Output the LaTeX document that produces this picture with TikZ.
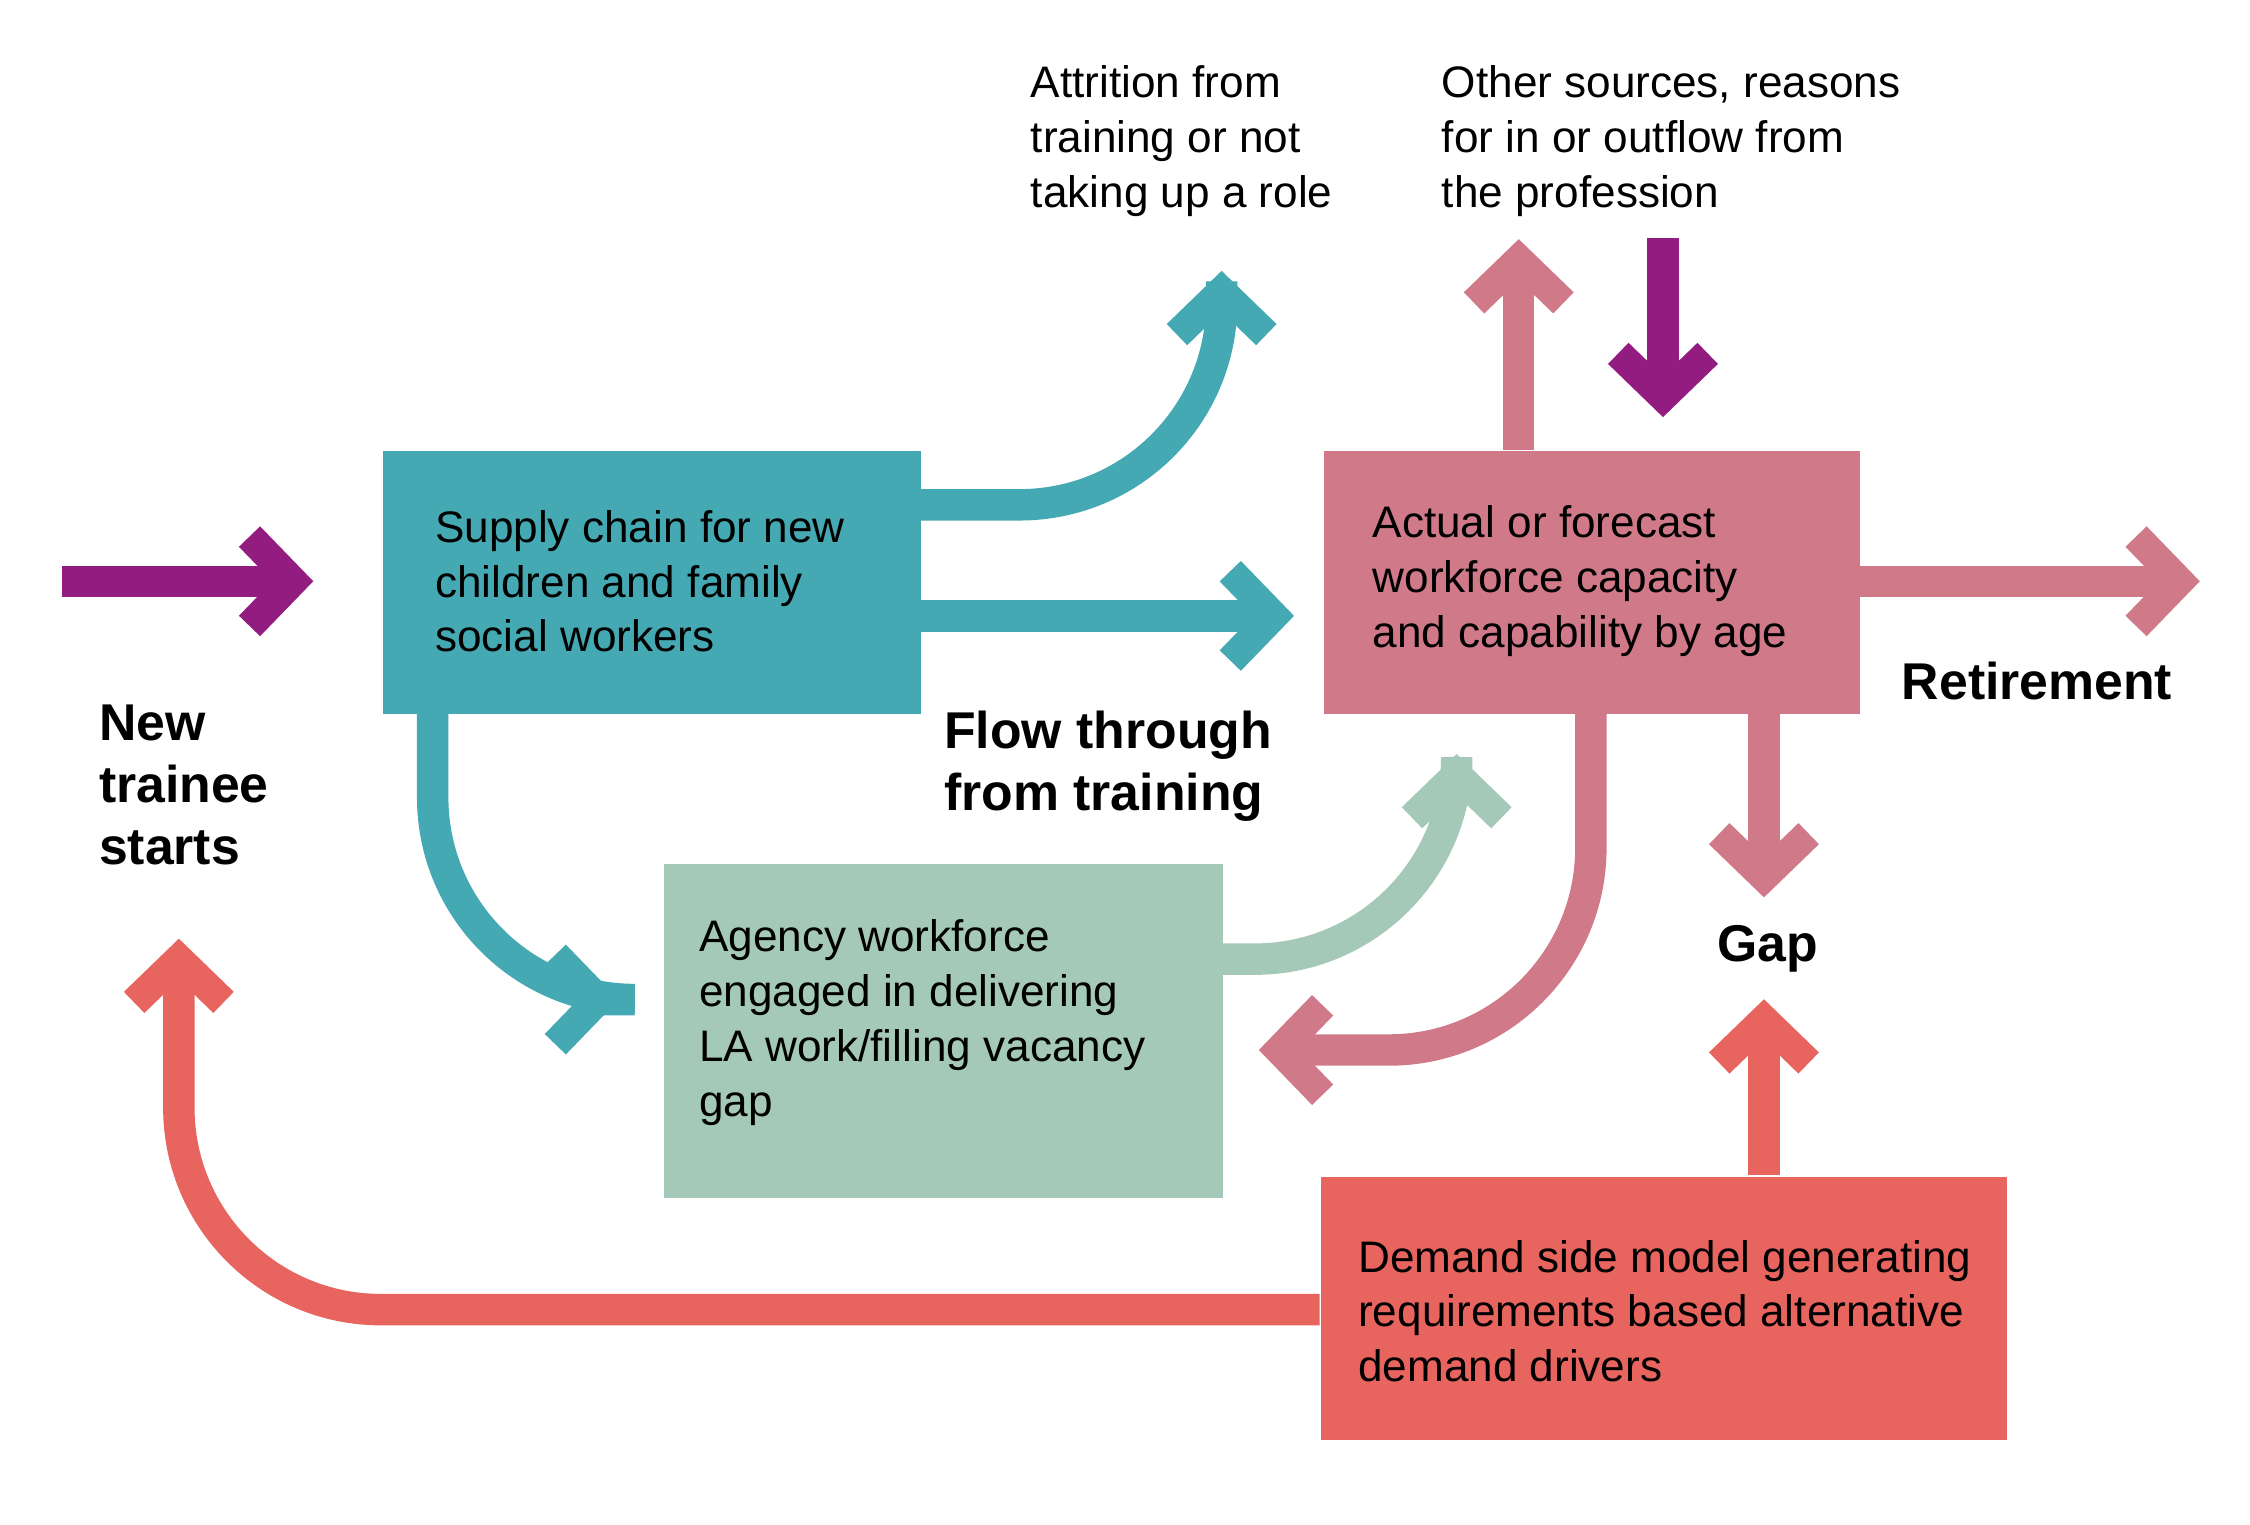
\documentclass[tikz,border=0pt]{standalone}
\usepackage{fontspec}
\setmainfont{Liberation Sans}
\begin{document}
\begin{tikzpicture}[x=0.01cm,y=-0.01cm,
  shaft/.style={line width=6.2pt,rounded corners=1.4cm},
  chev/.pic={\draw[line width=5.8pt,miter limit=10,line join=miter] (-30,-31)--(0,0)--(-30,31);},
  box/.style={draw=none,inner sep=0,anchor=north west},
  txt/.style={inner sep=0,anchor=west,align=left,font=\fontsize{8.7}{10.8}\selectfont},
  big/.style={inner sep=0,anchor=west,align=left,font=\fontsize{10.2}{12.2}\selectfont\bfseries}]
\definecolor{teal}{HTML}{44A9B2}\definecolor{pink}{HTML}{D07A89}
\definecolor{purp}{HTML}{931C80}\definecolor{grn}{HTML}{A5C9B9}\definecolor{redc}{HTML}{E8645F}
\useasboundingbox (0,0) rectangle (1560,1057);
% boxes
\node[box,fill=teal,minimum width=373*0.01cm,minimum height=182*0.01cm] (sup) at (265,312) {};
\node[box,fill=pink,minimum width=372*0.01cm,minimum height=182*0.01cm] (act) at (917,312) {};
\node[box,fill=grn,minimum width=387*0.01cm,minimum height=232*0.01cm] (ag) at (460,598) {};
\node[box,fill=redc,minimum width=476*0.01cm,minimum height=183*0.01cm] (dem) at (915,815) {};
% purple in
\draw[shaft,purp] (43,403) -- (200,403); \pic[purp] at (203,403) {chev};
% teal
\draw[shaft,teal] (638,350) -- (847,350) -- (847,195); \pic[teal,rotate=90] at (847,202) {chev};
\draw[shaft,teal] (638,427) -- (880,427); \pic[teal] at (883,427) {chev};
\draw[shaft,teal] (300,494) -- (300,693) -- (412,693); \pic[teal] at (415,693) {chev};
% pink
\draw[shaft,pink] (1053,312) -- (1053,183); \pic[pink,rotate=90] at (1053,180) {chev};
\draw[shaft,purp] (1153,165) -- (1153,272); \pic[purp,rotate=-90] at (1153,275) {chev};
\draw[shaft,pink] (1289,403) -- (1508,403); \pic[pink] at (1511,403) {chev};
\draw[shaft,pink] (1223,494) -- (1223,605); \pic[pink,rotate=-90] at (1223,608) {chev};
\draw[shaft,pink] (1103,494) -- (1103,728) -- (890,728); \pic[pink,rotate=180] at (887,728) {chev};
% green
\draw[shaft,grn] (847,665) -- (1010,665) -- (1010,540); \pic[grn,rotate=90] at (1010,537) {chev};
% red
\draw[shaft,redc] (1223,815) -- (1223,710); \pic[redc,rotate=90] at (1223,707) {chev};
\draw[shaft,redc] (915,908) -- (124,908) -- (124,668); \pic[redc,rotate=90] at (124,665) {chev};
% texts
\node[txt] at (301,403) {Supply chain for new\\children and family\\social workers};
\node[txt] at (951,403) {Actual or forecast\\workforce capacity\\and capability by age};
\node[txt] at (484,709) {Agency workforce\\engaged in delivering\\LA work/filling vacancy\\gap};
\node[txt] at (941,909) {Demand side model generating\\requirements based alternative\\demand drivers};
\node[txt] at (714,98) {Attrition from\\training or not\\taking up a role};
\node[txt] at (999,98) {Other sources, reasons\\for in or outflow from\\the profession};
\node[big] at (68,544) {New\\trainee\\starts};
\node[big] at (654,531) {Flow through\\from training};
\node[big] at (1318,472) {Retirement};
\node[big] at (1190,658) {Gap};
\end{tikzpicture}
\end{document}
